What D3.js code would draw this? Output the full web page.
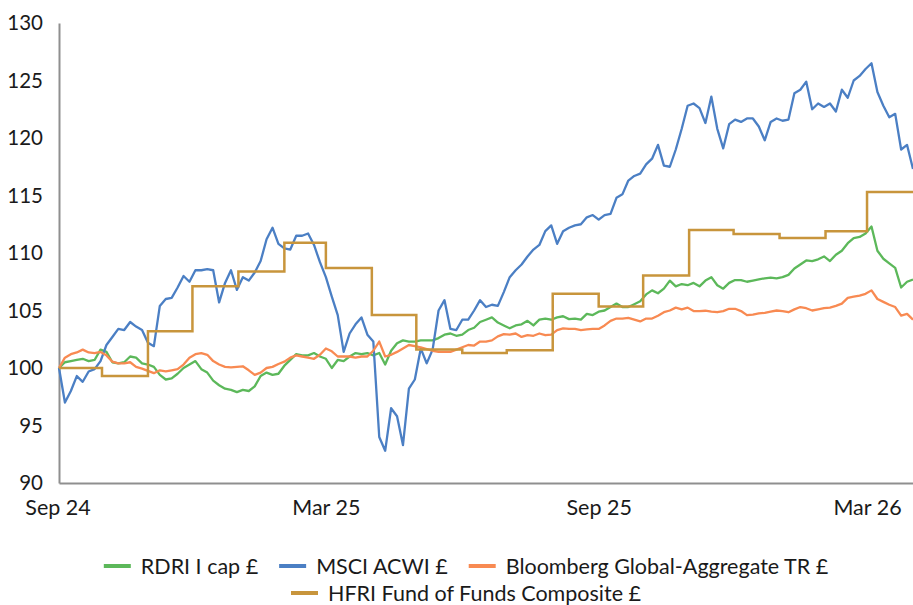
<!DOCTYPE html>
<html>
<head>
<meta charset="utf-8">
<script src="https://cdn.jsdelivr.net/npm/d3@7"></script>
<style>
body { margin: 0; background: #fff; }
svg text { font-family: Lato, "Open Sans", sans-serif; fill: #1a1a1a; }
</style>
</head>
<body>
<svg id="chart" width="913" height="605"></svg>
<script>
// daily series, one value every 4 days from 2 Sep 2024
var startDate = "2024-09-02"
var stepDays = 4

var rdri = [
  100, 100.5, 100.6, 100.7, 100.8, 100.6, 100.7, 101.6, 101.4, 100.5,
  100.4, 100.5, 101.0, 100.9, 100.4, 100.3, 100.1, 99.4, 99.0, 99.1,
  99.5, 100.0, 100.3, 100.6, 99.9, 99.6, 98.9, 98.5, 98.2, 98.1,
  97.9, 98.1, 98.0, 98.4, 99.3, 99.6, 99.4, 99.5, 100.2, 100.7,
  101.2, 101.1, 101.1, 101.3, 101.0, 100.8, 100.0, 100.7, 100.6, 101.0,
  101.3, 101.2, 101.3, 101.1, 101.3, 100.3, 101.5, 102.15, 102.4, 102.3,
  102.3, 102.4, 102.4, 102.4, 102.6, 102.9, 103.0, 102.8, 102.9, 103.3,
  103.5, 104.0, 104.2, 104.4, 103.95, 103.7, 103.45, 103.7, 103.8, 104.1,
  103.7, 104.2, 104.3, 104.2, 104.4, 104.5, 104.25, 104.3, 104.2, 104.7,
  104.6, 104.9, 105.0, 105.3, 105.6, 105.3, 105.3, 105.55, 105.8, 106.4,
  106.75, 106.5, 106.9, 107.6, 107.1, 107.3, 107.2, 107.4, 107.1, 107.6,
  107.9, 107.2, 106.9, 107.4, 107.65, 107.65, 107.5, 107.6, 107.7, 107.8,
  107.85, 107.8, 107.9, 108.1, 108.65, 109.0, 109.35, 109.3, 109.45, 109.7,
  109.3, 109.85, 110.2, 110.85, 111.3, 111.4, 111.7, 112.3, 110.2, 109.5,
  109.1, 108.7, 107.0, 107.5, 107.7
]

var msci = [
  100, 97.0, 98.0, 99.3, 98.8, 99.7, 99.9, 100.6, 102.0, 102.7,
  103.4, 103.3, 104.0, 103.6, 103.3, 102.2, 101.9, 105.4, 106.0, 106.1,
  107.0, 108.0, 107.5, 108.5, 108.5, 108.6, 108.5, 105.7, 107.4, 108.5,
  106.8, 107.9, 107.6, 108.3, 109.3, 111.2, 112.2, 110.8, 110.4, 110.3,
  111.5, 111.5, 111.7, 110.7, 109.2, 107.9, 106.2, 104.6, 101.4, 103.0,
  103.8, 104.4, 102.9, 102.3, 94.0, 92.8, 96.5, 95.8, 93.3, 98.2,
  99.0, 101.7, 100.4, 101.6, 105.0, 105.9, 103.4, 103.3, 104.2, 104.2,
  105.0, 105.9, 105.3, 105.5, 105.4, 106.6, 107.9, 108.5, 109.0, 109.7,
  110.3, 110.7, 111.9, 112.4, 110.8, 111.9, 112.2, 112.4, 112.5, 113.1,
  113.3, 112.9, 113.3, 113.4, 114.8, 115.1, 116.3, 116.7, 116.9, 117.7,
  118.2, 119.4, 117.6, 117.5, 119.0, 120.8, 122.8, 123.0, 122.6, 121.3,
  123.6, 120.8, 119.1, 121.2, 121.6, 121.4, 121.7, 121.7, 121.0, 119.8,
  121.4, 121.7, 121.5, 121.6, 123.9, 124.2, 124.9, 122.5, 123.0, 122.7,
  123.0, 122.3, 124.2, 123.5, 125.0, 125.4, 126.0, 126.5, 124.0, 122.8,
  121.8, 122.1, 119.0, 119.4, 117.3
]

var bloomberg = [
  100, 100.9, 101.2, 101.35, 101.6, 101.35, 101.3, 101.4, 101.1, 100.55,
  100.4, 100.4, 100.5, 100.1, 99.95, 99.75, 99.55, 99.8, 99.7, 99.8,
  99.9, 100.3, 100.9, 101.2, 101.3, 101.15, 100.6, 100.3, 100.1, 100.05,
  100.1, 100.15, 99.8, 99.4, 99.6, 100.0, 100.1, 100.35, 100.55, 100.9,
  101.1, 101.0, 100.9, 100.8, 101.15, 101.7, 101.45, 101.0, 101.0, 101.0,
  100.9, 101.0, 101.0, 101.5, 102.3, 101.0, 101.15, 101.4, 101.7, 102.0,
  101.9, 101.8, 101.65, 101.5, 101.4, 101.4, 101.4, 101.6, 101.8, 102.0,
  101.95, 102.3, 102.3, 102.4, 102.75, 102.95, 102.9, 103.0, 102.7, 102.85,
  102.8, 103.0, 102.85, 102.9, 103.3, 103.45, 103.4, 103.4, 103.3, 103.35,
  103.4, 103.4, 103.7, 104.1, 104.3, 104.3, 104.35, 104.2, 104.05, 104.3,
  104.3, 104.55, 104.85, 105.0, 105.25, 105.1, 105.25, 104.95, 104.95, 104.98,
  104.9, 104.85, 104.95, 105.15, 105.15, 104.95, 104.6, 104.65, 104.75, 104.8,
  104.9, 105.0, 104.95, 104.85, 105.1, 105.3, 105.2, 105.0, 105.1, 105.2,
  105.25, 105.4, 105.6, 106.1, 106.2, 106.3, 106.45, 106.75, 106.0, 105.75,
  105.5, 105.3, 104.55, 104.7, 104.2
]

// monthly fund of funds index, held flat through each month
var hfriDates = [
  "2024-09-02", "2024-10-01", "2024-11-01", "2024-12-01", "2025-01-01",
  "2025-02-01", "2025-03-01", "2025-04-01", "2025-05-01", "2025-06-01",
  "2025-07-01", "2025-08-01", "2025-09-01", "2025-10-01", "2025-11-01",
  "2025-12-01", "2026-01-01", "2026-02-01", "2026-03-01"
]
var hfri = [
  100.0, 99.3, 103.2, 107.1, 108.4,
  110.9, 108.7, 104.6, 101.6, 101.3,
  101.55, 106.45, 105.35, 108.05, 112.0,
  111.65, 111.3, 111.9, 115.3
]

var seriesNames = ["RDRI I cap £", "MSCI ACWI £", "Bloomberg Global-Aggregate TR £", "HFRI Fund of Funds Composite £"]
var colors = ["#5cb85a", "#4b7fc4", "#f88a52", "#c8953c"]

var yTicks = [90, 95, 100, 105, 110, 115, 120, 125, 130]
var xTickDates = ["2024-09-01", "2025-03-01", "2025-09-01", "2026-03-01"]
var xTickLabels = ["Sep 24", "Mar 25", "Sep 25", "Mar 26"]

var parseDate = d3.timeParse("%Y-%m-%d")
var start = parseDate(startDate)
var dates = rdri.map(function (d, i) { return d3.timeDay.offset(start, i * stepDays) })
var end = dates[dates.length - 1]

var svg = d3.select("#chart")

var plot = { left: 59, right: 913, top: 23, bottom: 483 }

var x = d3.scaleTime()
    .domain([start, end])
    .range([plot.left, plot.right])

var y = d3.scaleLinear()
    .domain([90, 130])
    .range([plot.bottom, plot.top])

// axes
var yAxis = d3.axisLeft(y)
    .tickValues(yTicks)
    .tickSize(0)
    .tickSizeOuter(0)
    .tickPadding(16)
var gy = svg.append("g")
    .attr("transform", "translate(" + plot.left + ",0)")
    .call(yAxis)
gy.selectAll("text").style("font-size", "20.5px")

var xAxis = d3.axisBottom(x)
    .tickValues(xTickDates.map(parseDate))
    .tickFormat(function (d, i) { return xTickLabels[i] })
    .tickSize(0)
    .tickSizeOuter(0)
    .tickPadding(17)
var gx = svg.append("g")
    .attr("transform", "translate(0," + plot.bottom + ")")
    .call(xAxis)
gx.selectAll("text").style("font-size", "21.5px")

svg.selectAll(".domain")
    .attr("stroke", "#8f8f8f")
    .attr("stroke-width", 2)

// lines
var line = d3.line()
    .x(function (d) { return x(d.date) })
    .y(function (d) { return y(d.value) })

var daily = [rdri, msci, bloomberg]
daily.forEach(function (values, k) {
    var pts = values.map(function (v, i) { return { date: dates[i], value: v } })
    svg.append("path")
        .datum(pts)
        .attr("fill", "none")
        .attr("stroke", colors[k])
        .attr("stroke-width", 2.3)
        .attr("stroke-linejoin", "round")
        .attr("d", line)
})

var hfriPts = hfri.map(function (v, i) { return { date: parseDate(hfriDates[i]), value: v } })
hfriPts.push({ date: end, value: hfri[hfri.length - 1] })
svg.append("path")
    .datum(hfriPts)
    .attr("fill", "none")
    .attr("stroke", colors[3])
    .attr("stroke-width", 2.5)
    .attr("d", line.curve(d3.curveStepAfter))

// legend, two centred rows like the original
var legendRows = [[0, 1, 2], [3]]
var rowY = [566, 593]
var legendCenter = 466
legendRows.forEach(function (row, r) {
    var g = svg.append("g")
    var cx = 0
    row.forEach(function (k) {
        var item = g.append("g").attr("transform", "translate(" + cx + ",0)")
        item.append("line")
            .attr("x1", 0).attr("x2", 27)
            .attr("stroke", colors[k])
            .attr("stroke-width", 4)
        var t = item.append("text")
            .attr("x", 37)
            .attr("dy", "0.35em")
            .style("font-size", "21.5px")
            .text(seriesNames[k])
        cx += 37 + t.node().getComputedTextLength() + 21
    })
    var w = cx - 21
    g.attr("transform", "translate(" + (legendCenter - w / 2) + "," + rowY[r] + ")")
})
</script>
</body>
</html>
